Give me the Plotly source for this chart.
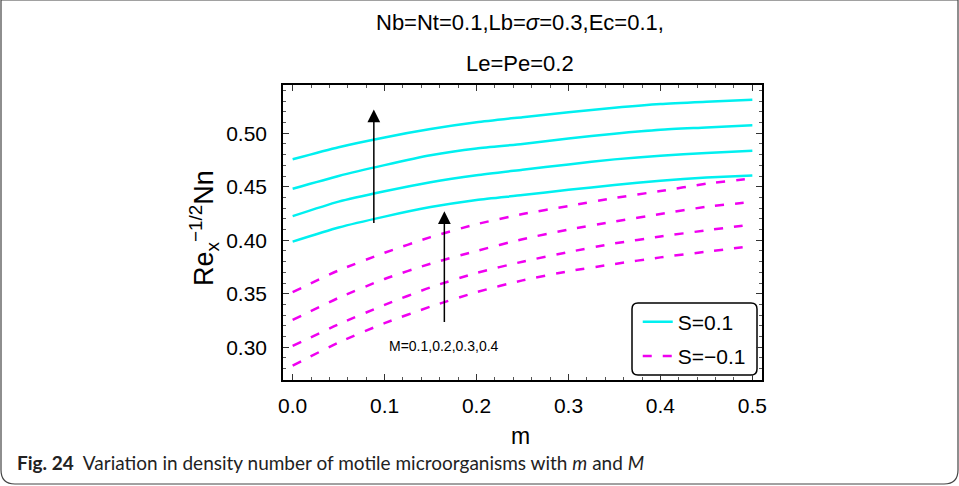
import plotly.graph_objects as go

# m values along the horizontal axis
m_vals = [0.0, 0.05, 0.10, 0.15, 0.20, 0.25, 0.30, 0.35, 0.40, 0.45, 0.50]
M_levels = ["0.1", "0.2", "0.3", "0.4"]

# Re_x^{-1/2} Nn for S = 0.1, M = 0.1 .. 0.4
nn_s_pos = [
    [0.3987, 0.4119, 0.4221, 0.4310, 0.4377, 0.4422, 0.4471, 0.4516, 0.4556, 0.4586, 0.4606],
    [0.4225, 0.4361, 0.4458, 0.4543, 0.4608, 0.4659, 0.4709, 0.4756, 0.4790, 0.4816, 0.4836],
    [0.4481, 0.4601, 0.4702, 0.4794, 0.4858, 0.4900, 0.4951, 0.4996, 0.5033, 0.5054, 0.5076],
    [0.4757, 0.4870, 0.4961, 0.5039, 0.5102, 0.5150, 0.5196, 0.5238, 0.5273, 0.5294, 0.5312],
]

# Re_x^{-1/2} Nn for S = -0.1, M = 0.1 .. 0.4
nn_s_neg = [
    [0.2828, 0.3045, 0.3225, 0.3380, 0.3515, 0.3625, 0.3710, 0.3778, 0.3840, 0.3893, 0.3945],
    [0.3012, 0.3214, 0.3396, 0.3560, 0.3695, 0.3800, 0.3890, 0.3970, 0.4035, 0.4093, 0.4147],
    [0.3255, 0.3462, 0.3638, 0.3781, 0.3900, 0.4010, 0.4100, 0.4175, 0.4245, 0.4313, 0.4358],
    [0.3515, 0.3718, 0.3883, 0.4029, 0.4150, 0.4245, 0.4320, 0.4395, 0.4460, 0.4528, 0.4578],
]

CYAN = "#00F0F0"
MAGENTA = "#F000F0"
FONT = "Liberation Sans, Arial, sans-serif"

fig = go.Figure()

for i, ys in enumerate(nn_s_pos):
    fig.add_trace(go.Scatter(
        x=m_vals, y=ys, mode="lines", name="S=0.1",
        line=dict(color=CYAN, width=2.5, shape="spline", smoothing=0.6),
        showlegend=(i == 0), legendgroup="pos", legendrank=1,
    ))

for i, ys in enumerate(nn_s_neg):
    fig.add_trace(go.Scatter(
        x=m_vals, y=ys, mode="lines", name="S=\u22120.1",
        line=dict(color=MAGENTA, width=2.5, dash="9px,11px", shape="spline", smoothing=0.6),
        showlegend=(i == 0), legendgroup="neg", legendrank=2,
    ))

axis_common = dict(
    showgrid=False, zeroline=False,
    showline=True, linecolor="black", linewidth=1.5, mirror="allticks",
    ticks="inside", ticklen=6, tickwidth=1, tickcolor="#333",
    tickfont=dict(family=FONT, size=21, color="black"),
)

fig.update_xaxes(
    range=[-0.0105, 0.5105], tick0=0, dtick=0.1, tickformat=".1f",
    minor=dict(ticks="inside", dtick=0.02, ticklen=3, tickcolor="#555", showgrid=False),
    ticklabelstandoff=6,
    **axis_common,
)
fig.update_yaxes(
    range=[0.2694, 0.5451], tick0=0.3, dtick=0.05, tickformat=".2f",
    minor=dict(ticks="inside", dtick=0.01, ticklen=3, tickcolor="#555", showgrid=False),
    ticklabelstandoff=10,
    **axis_common,
)

# Arrows showing increasing M
fig.add_annotation(x=0.0883, y=0.5222, ax=0.0883, ay=0.4148, xref="x", yref="y",
                   axref="x", ayref="y", text="", showarrow=True,
                   arrowhead=2, arrowsize=1.7, arrowwidth=1.5, arrowcolor="black")
fig.add_annotation(x=0.165, y=0.4272, ax=0.165, ay=0.3222, xref="x", yref="y",
                   axref="x", ayref="y", text="", showarrow=True,
                   arrowhead=2, arrowsize=1.7, arrowwidth=1.5, arrowcolor="black")
fig.add_annotation(x=0.1645, y=0.3012, xref="x", yref="y", showarrow=False,
                   text="M=" + ",".join(M_levels),
                   font=dict(family=FONT, size=14, color="black"))

# Parameter heading
cx = (520 - 283) / 479
fig.add_annotation(xref="paper", yref="paper", x=cx, y=1 + (85 - 23) / 295,
                   text="Nb=Nt=0.1,Lb=<i>\u03c3</i>=0.3,Ec=0.1,", showarrow=False,
                   font=dict(family=FONT, size=22, color="black"), yanchor="middle")
fig.add_annotation(xref="paper", yref="paper", x=cx, y=1 + (85 - 63) / 295,
                   text="Le=Pe=0.2", showarrow=False,
                   font=dict(family=FONT, size=22, color="black"), yanchor="middle")

# Axis titles
fig.add_annotation(xref="paper", yref="paper", x=(204 - 283) / 479, y=(380 - 228) / 295,
                   text="Re<sub>x</sub><sup>\u22121/2</sup>Nn", textangle=-90, showarrow=False,
                   font=dict(family=FONT, size=27, color="black"),
                   xanchor="center", yanchor="middle")
fig.add_annotation(xref="paper", yref="paper", x=cx, y=-(436 - 380) / 295,
                   text="m", showarrow=False,
                   font=dict(family=FONT, size=23, color="black"),
                   xanchor="center", yanchor="middle")

# Figure caption
fig.add_annotation(xref="paper", yref="paper", x=(15 - 283) / 479, y=-(462 - 380) / 295,
                   text="<b>Fig. 24</b>  Variation in density number of motile microorganisms with <i>m</i> and <i>M</i>",
                   showarrow=False, xanchor="left", yanchor="middle",
                   font=dict(family="Lato, sans-serif", size=19, color="#222"))

# Rounded legend frame
lx0, lx1 = (632 - 283) / 479, (757 - 283) / 479
ly0, ly1 = (380 - 375) / 295, (380 - 303) / 295
rx, ry = 6 / 479, 6 / 295
legend_path = (
    f"M {lx0 + rx},{ly1} L {lx1 - rx},{ly1} Q {lx1},{ly1} {lx1},{ly1 - ry} "
    f"L {lx1},{ly0 + ry} Q {lx1},{ly0} {lx1 - rx},{ly0} "
    f"L {lx0 + rx},{ly0} Q {lx0},{ly0} {lx0},{ly0 + ry} "
    f"L {lx0},{ly1 - ry} Q {lx0},{ly1} {lx0 + rx},{ly1} Z"
)
fig.add_shape(type="path", path=legend_path, xref="paper", yref="paper",
              line=dict(color="black", width=1.5), fillcolor="white", layer="below")

# Rounded outer frame of the figure panel
W, H = 479, 295
fx0, fx1 = (1 - 283) / W, (958 - 283) / W
fy0, fy1 = -(484 - 380) / H, (380 - 0) / H
frx, fry = 14 / W, 14 / H
frame_path = (
    f"M {fx0},{fy1} L {fx1},{fy1} "
    f"L {fx1},{fy0 + fry} Q {fx1},{fy0} {fx1 - frx},{fy0} "
    f"L {fx0 + frx},{fy0} Q {fx0},{fy0} {fx0},{fy0 + fry} Z"
)
fig.add_shape(type="path", path=frame_path, xref="paper", yref="paper",
              line=dict(color="#444", width=1.2), layer="below")

fig.update_layout(
    width=959, height=486,
    margin=dict(l=283, r=197, t=85, b=106),
    paper_bgcolor="white", plot_bgcolor="white",
    showlegend=True,
    legend=dict(
        x=lx0 + 0.012, y=ly1 + 0.005, xanchor="left", yanchor="top",
        bgcolor="rgba(0,0,0,0)", borderwidth=0,
        font=dict(family=FONT, size=21, color="black"),
        traceorder="grouped", tracegroupgap=4,
        itemwidth=30,
    ),
)

fig.write_html("out.html")
